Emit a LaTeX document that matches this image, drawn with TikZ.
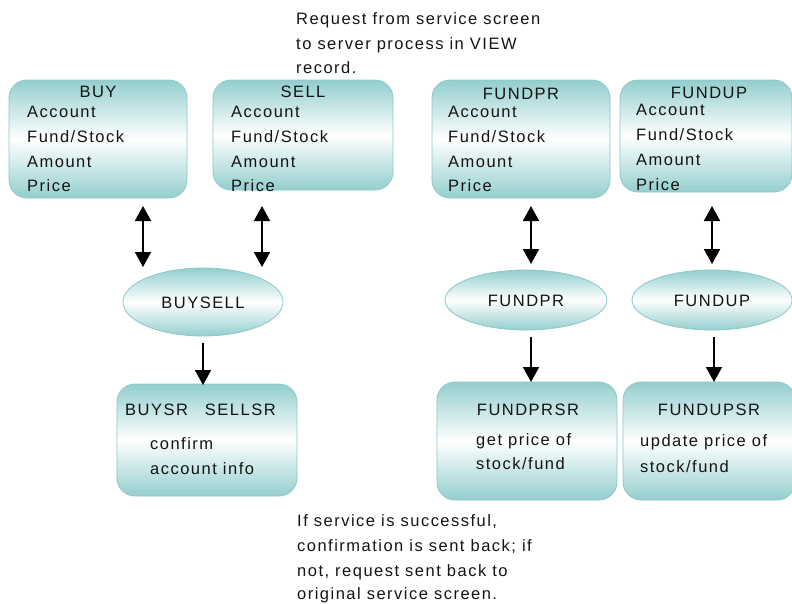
\documentclass[tikz,border=0pt]{standalone}
\usepackage{fontspec}
\setmainfont{Liberation Sans}[LetterSpace=9]
\usetikzlibrary{arrows.meta,shapes.geometric}
\definecolor{tealc}{RGB}{148,206,206}
\definecolor{edgec}{RGB}{140,200,200}
\definecolor{inkc}{RGB}{20,20,20}
\tikzset{
  box/.style={draw=edgec, line width=0.8pt, rounded corners=18pt, top color=tealc, bottom color=tealc, middle color=white, inner sep=0pt},
  oval/.style={ellipse, draw=edgec, line width=0.8pt, top color=tealc, bottom color=tealc, middle color=white, inner sep=0pt},
  txt/.style={anchor=base west, inner sep=0pt, text=inkc, font=\fontsize{16.5}{19}\selectfont},
  ctxt/.style={anchor=base, inner sep=0pt, text=inkc, font=\fontsize{16.5}{19}\selectfont},
  dbl/.style={line width=1.8pt, {Triangle[length=15pt,width=16pt]}-{Triangle[length=15pt,width=16pt]}},
  sgl/.style={line width=1.8pt, -{Triangle[length=15pt,width=16pt]}}
}
\begin{document}
\begin{tikzpicture}[x=1pt,y=-1pt]
\useasboundingbox (0,0) rectangle (792,603);
% top boxes
\node[box, minimum width=178pt, minimum height=118pt] (buy) at (98,139) {};
\node[box, minimum width=180pt, minimum height=110pt] (sell) at (303,135) {};
\node[box, minimum width=178pt, minimum height=118pt] (fundpr) at (521,139) {};
\node[box, minimum width=172pt, minimum height=112pt] (fundup) at (706,136) {};
% ellipses
\node[oval, minimum width=160pt, minimum height=68pt] (buysell) at (203,302) {};
\node[oval, minimum width=162pt, minimum height=60pt] (fundpre) at (526,300) {};
\node[oval, minimum width=160pt, minimum height=60pt] (fundupe) at (712,300) {};
% bottom boxes
\node[box, minimum width=180pt, minimum height=112pt] (buysr) at (207,440) {};
\node[box, minimum width=180pt, minimum height=118pt] (fundprsr) at (527,441) {};
\node[box, minimum width=172pt, minimum height=118pt] (fundupsr) at (709,441) {};

% texts top
\node[txt] (t1) at (296,24) {Request from service screen};
\node[txt] (t2) at (296,49) {to server process in VIEW};
\node[txt] (t3) at (296,73) {record.};

\node[ctxt] (buyt) at (98,97) {BUY};
\node[txt] (b1) at (27,117) {Account};
\node[txt] (b2) at (27,142) {Fund/Stock};
\node[txt] (b3) at (27,167) {Amount};
\node[txt] (b4) at (27,191) {Price};

\node[ctxt] (sellt) at (303,97) {SELL};
\node[txt] (s1) at (231,117) {Account};
\node[txt] (s2) at (231,142) {Fund/Stock};
\node[txt] (s3) at (231,167) {Amount};
\node[txt] (s4) at (231,191) {Price};

\node[ctxt] (fprt) at (521,99) {FUNDPR};
\node[txt] (p1) at (448,117) {Account};
\node[txt] (p2) at (448,142) {Fund/Stock};
\node[txt] (p3) at (448,167) {Amount};
\node[txt] (p4) at (448,191) {Price};

\node[ctxt] (fupt) at (709,98) {FUNDUP};
\node[txt] (u1) at (636,115) {Account};
\node[txt] (u2) at (636,140) {Fund/Stock};
\node[txt] (u3) at (636,165) {Amount};
\node[txt] (u4) at (636,190) {Price};

\node[ctxt] at (buysell.center) [yshift=-6pt] (bst) {BUYSELL};
\node[ctxt] at (fundpre.center) [yshift=-6pt] (fpe) {FUNDPR};
\node[ctxt] at (fundupe.center) [yshift=-6pt] (fue) {FUNDUP};

\node[txt] (bsr) at (125,415) {BUYSR\hspace{17pt}SELLSR};
\node[txt] (bsr1) at (150,449) {confirm};
\node[txt] (bsr2) at (150,474) {account info};

\node[ctxt] (fprsr) at (528,415) {FUNDPRSR};
\node[txt] (fprsr1) at (476,445) {get price of};
\node[txt] (fprsr2) at (476,469) {stock/fund};

\node[ctxt] (fupsr) at (709,415) {FUNDUPSR};
\node[txt] (fupsr1) at (640,446) {update price of};
\node[txt] (fupsr2) at (640,472) {stock/fund};

\node[txt] (n1) at (297,526) {If service is successful,};
\node[txt] (n2) at (297,551) {confirmation is sent back; if};
\node[txt] (n3) at (297,576) {not, request sent back to};
\node[txt] (n4) at (297,599) {original service screen.};

% arrows
\coordinate (a1t) at (143,206); \coordinate (a1b) at (143,267);
\coordinate (a2t) at (262,206); \coordinate (a2b) at (262,267);
\coordinate (a3t) at (531,206); \coordinate (a3b) at (531,264);
\coordinate (a4t) at (712,206); \coordinate (a4b) at (712,264);
\draw[dbl] (a1t) -- (a1b);
\draw[dbl] (a2t) -- (a2b);
\draw[dbl] (a3t) -- (a3b);
\draw[dbl] (a4t) -- (a4b);
\coordinate (d1t) at (203,343); \coordinate (d1b) at (203,385);
\coordinate (d2t) at (531,337); \coordinate (d2b) at (531,382);
\coordinate (d3t) at (714,337); \coordinate (d3b) at (714,382);
\draw[sgl] (d1t) -- (d1b);
\draw[sgl] (d2t) -- (d2b);
\draw[sgl] (d3t) -- (d3b);
\end{tikzpicture}
\end{document}
